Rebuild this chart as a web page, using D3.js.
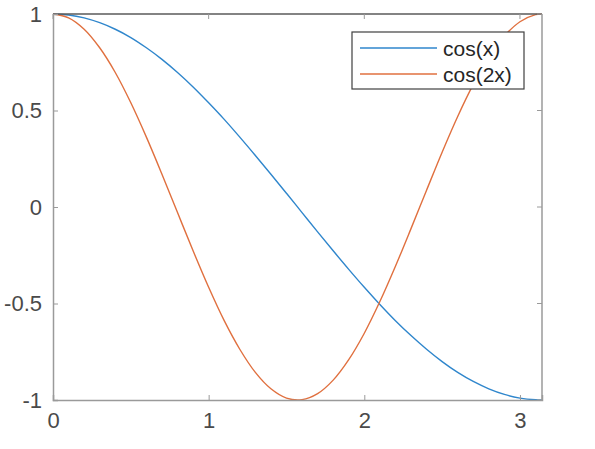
<!DOCTYPE html>
<html><head><meta charset="utf-8">
<script src="https://cdn.jsdelivr.net/npm/d3@7"></script>
<style>html,body{margin:0;padding:0;background:#fff;} svg{display:block;}</style>
</head><body>
<svg id="chart" width="595" height="449"></svg>
<script>
const xs = [0,0.1,0.2,0.3,0.4,0.5,0.6,0.7,0.8,0.9,1.0,1.1,1.2,1.3,1.4,1.5,1.6,1.7,1.8,1.9,2.0,2.1,2.2,2.3,2.4,2.5,2.6,2.7,2.8,2.9,3.0,3.1,3.1416];
const cosX = [1,0.995,0.980,0.955,0.921,0.878,0.825,0.765,0.697,0.622,0.540,0.454,0.362,0.267,0.170,0.071,-0.029,-0.129,-0.227,-0.323,-0.416,-0.505,-0.589,-0.666,-0.737,-0.801,-0.857,-0.904,-0.942,-0.971,-0.990,-0.999,-1];
const cos2X = [1,0.980,0.921,0.825,0.697,0.540,0.362,0.170,-0.029,-0.227,-0.416,-0.589,-0.737,-0.857,-0.942,-0.990,-0.998,-0.967,-0.897,-0.791,-0.654,-0.490,-0.307,-0.112,0.087,0.284,0.469,0.635,0.776,0.886,0.960,0.997,1];
const seriesNames = ["cos(x)", "cos(2x)"];
const colors = ["#2f86cc", "#e0703f"];
const xTicks = [0,1,2,3];
const yTicks = [-1,-0.5,0,0.5,1];
const yTickLabels = ["-1","-0.5","0","0.5","1"];

const svg = d3.select("#chart");
const L = 53, R = 542, T = 14, B = 400;
const x = d3.scaleLinear().domain([0, 3.1416]).range([L, R]);
const y = d3.scaleLinear().domain([-1, 1]).range([B, T]);
const font = "'Liberation Sans', Arial, Helvetica, sans-serif";
const axisCol = "#9a9a9a";

// lines
const series = [cosX, cos2X];
const line = d3.line().x((d,i)=>x(xs[i])).y(d=>y(d)).curve(d3.curveCatmullRom);
series.forEach((s,k)=>{
  svg.append("path").datum(s).attr("d", line)
    .attr("fill","none").attr("stroke", colors[k]).attr("stroke-width",1.4);
});

// box
svg.append("line").attr("x1",L).attr("x2",R).attr("y1",T).attr("y2",T).attr("stroke","#5a5a5a").attr("stroke-width",1.5);
svg.append("line").attr("x1",R).attr("x2",R).attr("y1",T).attr("y2",B).attr("stroke",axisCol).attr("stroke-width",1.5);

// axes
const xAxis = d3.axisBottom(x).tickValues(xTicks).tickSize(-5).tickPadding(12).tickFormat(d3.format("d"));
const gx = svg.append("g").attr("transform",`translate(0,${B})`).call(xAxis);
const yAxis = d3.axisLeft(y).tickValues(yTicks).tickSize(-5).tickPadding(11).tickFormat((d,i)=>yTickLabels[i]);
const gy = svg.append("g").attr("transform",`translate(${L},0)`).call(yAxis);
[gx,gy].forEach(g=>{
  g.select(".domain").attr("stroke",axisCol).attr("stroke-width",1.5);
  g.selectAll(".tick line").attr("stroke",axisCol).attr("stroke-width",1);
  g.selectAll("text").attr("font-family",font).attr("font-size",22).attr("fill","#4a4a4a");
});
// mirrored ticks on top and right
svg.selectAll(".tt").data(xTicks).enter().append("line")
  .attr("x1",d=>x(d)).attr("x2",d=>x(d)).attr("y1",T).attr("y2",T+5).attr("stroke",axisCol);
svg.selectAll(".rt").data(yTicks).enter().append("line")
  .attr("x1",R).attr("x2",R-5).attr("y1",d=>y(d)).attr("y2",d=>y(d)).attr("stroke",axisCol);

// legend
const lg = svg.append("g");
lg.append("rect").attr("x",352).attr("y",32).attr("width",172).attr("height",57)
  .attr("fill","#fff").attr("stroke","#404040").attr("stroke-width",1.2);
seriesNames.forEach((n,k)=>{
  const cy = 48 + k*26;
  lg.append("line").attr("x1",360).attr("x2",437).attr("y1",cy).attr("y2",cy)
    .attr("stroke",colors[k]).attr("stroke-width",1.4);
  lg.append("text").attr("x",443).attr("y",cy+7.5).text(n)
    .attr("font-family",font).attr("font-size",21).attr("fill","#262626");
});
</script>
</body></html>
